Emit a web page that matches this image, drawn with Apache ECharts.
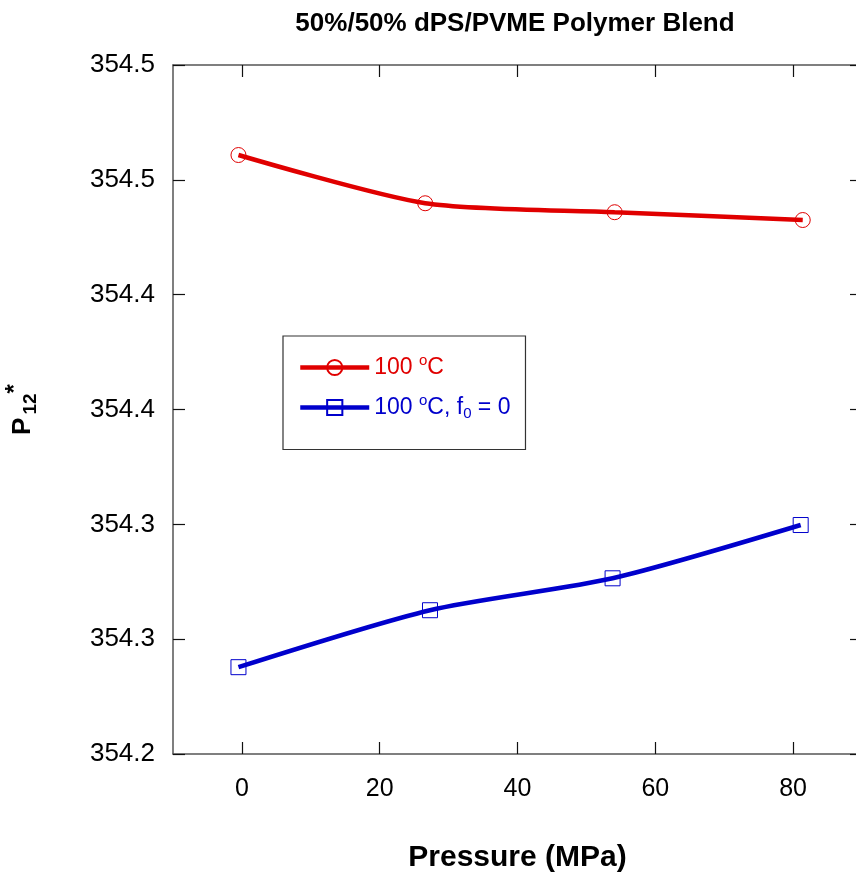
<!DOCTYPE html>
<html>
<head>
<meta charset="utf-8">
<script src="https://cdn.jsdelivr.net/npm/echarts@6/dist/echarts.min.js"></script>
<style>
html,body{margin:0;padding:0;background:#fff;}
#chart{width:856px;height:877px;}
</style>
</head>
<body>
<div id="chart"></div>
<script>
// Data
const pressure100C = [-0.5, 26.6, 54.1, 81.4];
const p12_100C = [354.4608, 354.4398, 354.4359, 354.4325];
const pressureF0 = [-0.5, 27.3, 53.8, 81.1];
const p12_F0 = [354.2378, 354.2626, 354.2765, 354.2997];
const xTicks = [0, 20, 40, 60, 80];
const seriesNames = ['100 °C', '100 °C, f0 = 0'];

const chart = echarts.init(document.getElementById('chart'), null, {renderer: 'canvas'});
const axisColor = '#555';
const fontFamily = 'Arial, "Liberation Sans", Helvetica, sans-serif';

function yFmt(v) { return (Math.round(v * 10 + 1e-6) / 10).toFixed(1); }

const baseX = {
  type: 'value', min: -10, max: 90,
  axisLine: {show: true, onZero: false, lineStyle: {color: axisColor, width: 1.5}},
  axisTick: {show: true, inside: true, length: 12, customValues: xTicks, lineStyle: {color: '#111', width: 1.2}},
  splitLine: {show: false}
};
const baseY = {
  type: 'value', min: 354.2, max: 354.5, interval: 0.05,
  axisLine: {show: true, onZero: false, lineStyle: {color: axisColor, width: 1.5}},
  axisTick: {show: true, inside: true, length: 12, lineStyle: {color: '#111', width: 1.2}},
  splitLine: {show: false}
};

const option = {
  backgroundColor: '#fff',
  animation: false,
  title: {
    text: '50%/50% dPS/PVME Polymer Blend',
    left: 510, top: 6, textAlign: 'center',
    textStyle: {fontFamily, fontSize: 26, fontWeight: 'bold', color: '#000'}
  },
  grid: {left: 173, top: 65, width: 689, height: 689, containLabel: false, outerBoundsMode: 'none'},
  legend: {
    orient: 'vertical',
    left: 283, top: 336,
    padding: [17, 15, 28, 15],
    itemGap: 14,
    itemWidth: 69, itemHeight: 19,
    borderColor: '#333', borderWidth: 1.2, backgroundColor: '#fff',
    lineStyle: {width: 4.5},
    data: [
      {name: seriesNames[0], textStyle: {color: '#e00000'}},
      {name: seriesNames[1], textStyle: {color: '#0000cc'}}
    ],
    formatter: function (name) {
      if (name === seriesNames[0]) return '{t|100 }{sup|o}{t|C}';
      return '{t|100 }{sup|o}{t|C, f}{sub|0}{t| = 0}';
    },
    textStyle: {
      fontFamily, fontSize: 23,
      rich: {
        t: {fontFamily, fontSize: 23},
        sup: {fontFamily, fontSize: 15, padding: [0, 0, 14, 0]},
        sub: {fontFamily, fontSize: 15, padding: [13, 0, 0, 0]}
      }
    }
  },
  xAxis: [
    Object.assign({}, baseX, {
      position: 'bottom',
      name: 'Pressure (MPa)', nameLocation: 'middle', nameGap: 89,
      nameTextStyle: {fontFamily, fontSize: 30, fontWeight: 'bold', color: '#000'},
      axisLabel: {show: true, customValues: xTicks, margin: 23, fontFamily, fontSize: 25, color: '#000'}
    }),
    Object.assign({}, baseX, {position: 'top', axisLabel: {show: false}})
  ],
  yAxis: [
    Object.assign({}, baseY, {
      position: 'left',
      name: '{p|P}{sub|12}{sup|*}', nameLocation: 'middle', nameGap: 130, nameRotate: 90,
      nameTextStyle: {
        fontFamily, fontSize: 25, fontWeight: 'bold', color: '#000',
        rich: {
          p: {fontFamily, fontSize: 26, fontWeight: 'bold'},
          sub: {fontFamily, fontSize: 19, fontWeight: 'bold', padding: [16, 0, 0, 3]},
          sup: {fontFamily, fontSize: 24, fontWeight: 'bold', padding: [0, 0, 16, 0]}
        }
      },
      axisLabel: {show: true, margin: 18, fontFamily, fontSize: 26, color: '#000', formatter: yFmt}
    }),
    Object.assign({}, baseY, {position: 'right', axisLabel: {show: false}})
  ],
  series: [
    {
      name: seriesNames[0], type: 'line', xAxisIndex: 0, yAxisIndex: 0,
      data: pressure100C.map((x, i) => [x, p12_100C[i]]),
      smooth: 0.25,
      symbol: 'circle', symbolSize: 15,
      lineStyle: {color: '#e00000', width: 4.5},
      itemStyle: {color: 'rgba(0,0,0,0)', borderColor: '#e00000', borderWidth: 1},
      z: 3
    },
    {
      name: seriesNames[1], type: 'line', xAxisIndex: 0, yAxisIndex: 0,
      data: pressureF0.map((x, i) => [x, p12_F0[i]]),
      smooth: 0.25,
      symbol: 'rect', symbolSize: 15,
      lineStyle: {color: '#0000cc', width: 4.5},
      itemStyle: {color: 'rgba(0,0,0,0)', borderColor: '#0000cc', borderWidth: 1},
      z: 3
    }
  ]
};
chart.setOption(option);
</script>
</body>
</html>
